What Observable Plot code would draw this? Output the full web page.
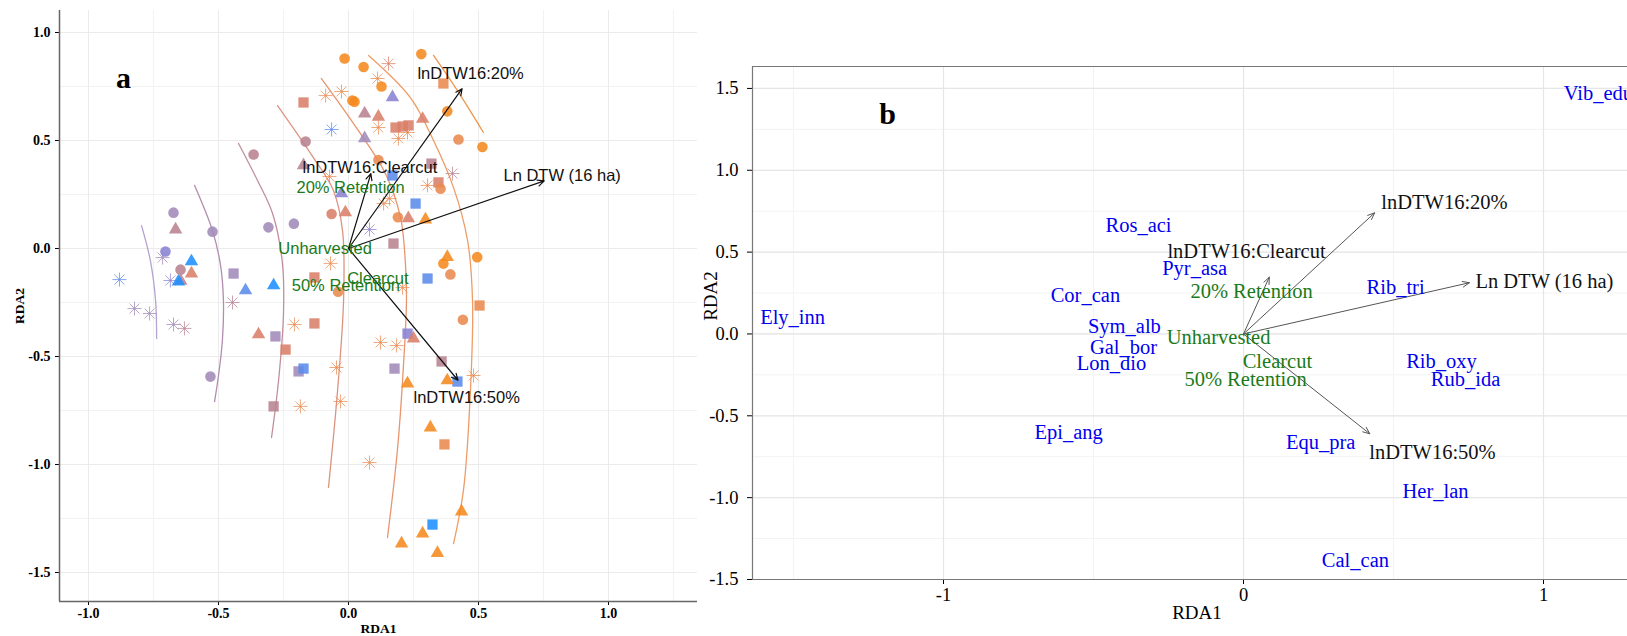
<!DOCTYPE html>
<html><head><meta charset="utf-8">
<script src="https://cdn.jsdelivr.net/npm/d3@7"></script>
<script src="https://cdn.jsdelivr.net/npm/@observablehq/plot@0.6"></script>
<style>
body{margin:0;background:#fff;}
#wrap{position:relative;width:1627px;height:636px;overflow:hidden;background:#fff;}
#a{position:absolute;left:0;top:0;}
#b{position:absolute;left:700px;top:0;}
</style></head><body><div id="wrap"><div id="a"></div><div id="b"></div></div>
<script>
// ---------- Panel a data (site scores: [RDA1, RDA2, colour group]) ----------
const circles = [
[-0.015,0.88,8],[0.058,0.84,8],[0.127,0.75,8],[0.015,0.685,8],[0.023,0.68,8],[0.28,0.90,8],
[0.38,0.635,8],[0.423,0.505,7],[0.515,0.47,8],[-0.165,0.495,5],[0.115,0.41,7],[-0.065,0.16,6],
[-0.21,0.115,4],[0.19,0.145,7],[0.354,0.277,7],[0.495,-0.04,8],[0.392,-0.12,7],[0.365,-0.07,8],
[-0.04,-0.20,7],[0.44,-0.33,7],[-0.673,0.166,4],[-0.704,-0.014,3],[-0.646,-0.098,5],[-0.523,0.078,4],
[-0.308,0.098,4],[-0.531,-0.593,4],[-0.365,0.435,5]
];
const triangles = [
[0.169,0.70,3],[0.062,0.625,5],[0.115,0.61,6],[0.285,0.60,6],[0.062,0.51,4],[-0.173,0.385,5],
[-0.027,0.255,3],[-0.012,0.167,6],[0.23,0.14,6],[0.296,0.134,8],[0.38,-0.04,8],[-0.288,-0.171,1],
[-0.665,0.088,5],[-0.604,-0.06,1],[-0.604,-0.116,6],[-0.645,-0.15,5],[-0.654,-0.153,1],[-0.396,-0.194,2],
[-0.346,-0.398,6],[0.25,-0.417,6],[0.227,-0.625,8],[0.38,-0.611,8],[0.315,-0.829,8],[0.435,-1.218,8],
[0.285,-1.32,8],[0.204,-1.366,8],[0.342,-1.41,8]
];
const squares = [
[-0.173,0.676,6],[0.181,0.56,6],[0.208,0.565,6],[0.231,0.57,6],[0.365,0.764,7],[0.169,0.338,2],
[0.319,0.393,5],[0.346,0.306,6],[0.258,0.208,2],[0.173,0.023,5],[0.304,-0.139,2],[-0.131,-0.134,6],
[0.504,-0.264,7],[-0.442,-0.116,4],[-0.281,-0.407,4],[-0.242,-0.468,6],[-0.192,-0.569,4],[-0.173,-0.556,2],
[-0.288,-0.731,5],[-0.131,-0.347,6],[0.227,-0.394,3],[0.177,-0.556,4],[0.358,-0.523,5],[0.419,-0.616,2],
[0.369,-0.907,7],[0.323,-1.278,1]
];
const asterisks = [
[0.154,0.856,6],[-0.088,0.708,7],[-0.027,0.727,7],[0.112,0.787,7],[-0.065,0.551,2],[0.115,0.56,7],
[0.192,0.509,7],[0.227,0.537,7],[0.40,0.347,5],[0.304,0.292,7],[-0.073,0.333,7],[0.135,0.208,7],
[0.158,0.231,7],[0.081,0.088,3],[-0.069,-0.069,7],[0.208,-0.181,7],[-0.881,-0.144,2],[-0.715,-0.042,4],
[-0.685,-0.148,3],[-0.823,-0.278,4],[-0.765,-0.301,4],[-0.673,-0.352,4],[-0.631,-0.37,5],[-0.446,-0.25,5],
[-0.208,-0.352,7],[-0.185,-0.731,7],[-0.046,-0.551,7],[-0.031,-0.708,7],[0.123,-0.435,7],[0.185,-0.449,7],
[0.481,-0.588,7],[0.081,-0.991,7]
];
// fitted surface isolines (panel a)
const iso1 = [[-0.796,0.106],[-0.762,-0.056],[-0.742,-0.241],[-0.738,-0.417]];
const iso2 = [[-0.592,0.292],[-0.523,0.083],[-0.492,-0.079],[-0.481,-0.241],[-0.485,-0.426],[-0.5,-0.588],[-0.515,-0.708]];
const iso3 = [[-0.423,0.486],[-0.35,0.315],[-0.292,0.162],[-0.254,-0.069],[-0.25,-0.301],[-0.269,-0.611],[-0.296,-0.875]];
const iso4 = [[-0.273,0.662],[-0.135,0.421],[-0.058,0.269],[-0.023,0.083],[-0.019,-0.241],[-0.042,-0.657],[-0.077,-1.106]];
const iso5 = [[-0.104,0.787],[0.038,0.546],[0.142,0.347],[0.2,0.144],[0.219,-0.069],[0.223,-0.241],[0.212,-0.532],[0.188,-0.935],[0.15,-1.338]];
const iso6 = [[0.077,0.894],[0.238,0.699],[0.327,0.5],[0.404,0.282],[0.458,0.037],[0.477,-0.241],[0.469,-0.657],[0.442,-1.12],[0.404,-1.366]];
const iso7 = [[0.327,0.894],[0.419,0.731],[0.519,0.537]];
const isoLines = [iso1, iso2, iso3, iso4, iso5, iso6, iso7];

// ---------- biplot arrows (shared) ----------
const arrowNames = ["lnDTW16:Clearcut", "lnDTW16:20%", "Ln DTW (16 ha)", "lnDTW16:50%"];
const arrowX = [0.086, 0.437, 0.753, 0.421];
const arrowY = [0.347, 0.74, 0.313, -0.61];
const arrowLabelAX = [-0.177, 0.265, 0.596, 0.25];   // panel a, label start
const arrowLabelAY = [0.375, 0.81, 0.338, -0.69];
const arrowLabelBX = [0.01, 0.67, 1.003, 0.63];      // panel b, label centre
const arrowLabelBY = [0.506, 0.805, 0.323, -0.726];

const treatNames = ["Unharvested", "20% Retention", "50% Retention", "Clearcut"];
const treatAX = [-0.09, 0.008, -0.01, 0.113];
const treatAY = [0.0, 0.28, -0.17, -0.14];
const treatBX = [-0.083, 0.027, 0.007, 0.113];
const treatBY = [-0.024, 0.262, -0.28, -0.165];

// ---------- panel b species scores ----------
const speciesNames = ["Vib_edu","Ros_aci","Cor_can","Ely_inn","Sym_alb","Gal_bor","Lon_dio","Pyr_asa","Epi_ang","Rib_tri","Rib_oxy","Rub_ida","Equ_pra","Her_lan","Cal_can"];
const speciesX = [1.183,-0.35,-0.527,-1.503,-0.397,-0.4,-0.44,-0.163,-0.583,0.507,0.66,0.74,0.257,0.64,0.373];
const speciesY = [1.47,0.665,0.238,0.098,0.043,-0.085,-0.177,0.402,-0.604,0.287,-0.165,-0.28,-0.665,-0.963,-1.384];

// tick values
const aTicksX = [-1, -0.5, 0, 0.5, 1];
const aTicksY = [-1.5, -1, -0.5, 0, 0.5, 1];
const bTicksX = [-1, 0, 1];
const bTicksY = [-1.5, -1, -0.5, 0, 0.5, 1, 1.5];

// ---------- styling ----------
const groupColors = ["#1e8fff","#5b8bea","#8a82d2","#a08ab8","#b88290","#d9806a","#e98a50","#f58a1f"];
const isoColors = ["#b4a2d0","#b38cb0","#c0909a","#dc9580","#e8956e","#ee9c66","#f0964a"];
const green = "#1a7a1a";
const xDomA = [-1.1115, 1.3423], yDomA = [-1.6343, 1.1019];
const xDomB = [-1.6367, 1.28], yDomB = [-1.5, 1.634];

const asterisk8 = {draw(ctx, size) {
  const r = Math.sqrt(size / Math.PI) * 1.35;
  for (let i = 0; i < 4; i++) {
    const a = i * Math.PI / 4, c = Math.cos(a) * r, s = Math.sin(a) * r;
    ctx.moveTo(c, s); ctx.lineTo(-c, -s);
  }
}};

const arrowsData = arrowNames.map((n, i) => ({n, x: arrowX[i], y: arrowY[i]}));
const quarter = (d) => d3.range(Math.ceil(d[0] * 4), Math.floor(d[1] * 4) + 1).map(v => v / 4);

const px = d => d[0], py = d => d[1], pg = d => d[2];

const plotA = Plot.plot({
  width: 700, height: 636, marginLeft: 59, marginRight: 3, marginTop: 10, marginBottom: 35,
  style: {fontFamily: "'Liberation Serif', serif", fontSize: "14px", fontWeight: "bold", color: "#000", background: "#fff"},
  x: {domain: xDomA, ticks: aTicksX, tickFormat: d => d.toFixed(1), tickSize: 4, tickPadding: 3, label: null},
  y: {domain: yDomA, ticks: aTicksY, tickFormat: d => d.toFixed(1), tickSize: 4, tickPadding: 5, label: null},
  color: {type: "ordinal", domain: [1,2,3,4,5,6,7,8], range: groupColors},
  marks: [
    Plot.ruleX(quarter(xDomA), {stroke: "#f2f2f2", strokeWidth: 1}),
    Plot.ruleY(quarter(yDomA), {stroke: "#f2f2f2", strokeWidth: 1}),
    Plot.ruleX(aTicksX, {stroke: "#ebebeb", strokeWidth: 1}),
    Plot.ruleY(aTicksY, {stroke: "#ebebeb", strokeWidth: 1}),
    Plot.ruleX([xDomA[0]], {stroke: "#666", strokeWidth: 1.5}),
    Plot.ruleY([yDomA[0]], {stroke: "#666", strokeWidth: 1.5}),
    ...isoLines.map((l, i) => Plot.line(l, {x: px, y: py, stroke: isoColors[i], strokeWidth: 1.3, curve: "catmull-rom"})),
    Plot.dot(asterisks, {x: px, y: py, stroke: pg, fill: "none", symbol: asterisk8, r: 5.2, strokeWidth: 1, strokeOpacity: 0.75}),
    Plot.dot(squares, {x: px, y: py, fill: pg, symbol: "square", r: 5.8, fillOpacity: 0.88}),
    Plot.dot(triangles, {x: px, y: py, fill: pg, symbol: "triangle", r: 5.0, fillOpacity: 0.88}),
    Plot.dot(circles, {x: px, y: py, fill: pg, symbol: "circle", r: 5.3, fillOpacity: 0.88}),
    Plot.arrow(arrowsData, {x1: 0, y1: 0, x2: "x", y2: "y", stroke: "#111", strokeWidth: 1.2, headLength: 9, headAngle: 50}),
    Plot.text(arrowNames, {x: (d, i) => arrowLabelAX[i], y: (d, i) => arrowLabelAY[i], text: d => d, textAnchor: "start",
      fontFamily: "'Liberation Sans', Arial, sans-serif", fontSize: 16.5, fontWeight: "normal", fill: "#111"}),
    Plot.text(treatNames, {x: (d, i) => treatAX[i], y: (d, i) => treatAY[i], text: d => d,
      fontFamily: "'Liberation Sans', Arial, sans-serif", fontSize: 16.5, fontWeight: "normal", fill: green}),
    Plot.text(["a"], {frameAnchor: "top-left", dx: 64, dy: 68, textAnchor: "middle", lineAnchor: "middle", fontSize: 30, fontWeight: "bold", fill: "#000"}),
    Plot.text(["RDA1"], {frameAnchor: "bottom", dy: 27, textAnchor: "middle", lineAnchor: "middle", fontSize: 13.5, fontWeight: "bold"}),
    Plot.text(["RDA2"], {frameAnchor: "left", dx: -40, textAnchor: "middle", lineAnchor: "middle", rotate: -90, fontSize: 13.5, fontWeight: "bold"})
  ]
});
document.getElementById("a").appendChild(plotA);

const plotB = Plot.plot({
  width: 927, height: 636, marginLeft: 52, marginRight: 0, marginTop: 66, marginBottom: 57,
  style: {fontFamily: "'Liberation Serif', serif", fontSize: "18.5px", color: "#000", background: "#fff"},
  x: {domain: xDomB, ticks: bTicksX, tickFormat: d => String(d), tickSize: 5, tickPadding: 3, label: null},
  y: {domain: yDomB, ticks: bTicksY, tickFormat: d => d.toFixed(1), tickSize: 5, tickPadding: 9, label: null},
  marks: [
    Plot.ruleY(quarter(yDomB), {stroke: "#f3f3f3", strokeWidth: 1}),
    Plot.ruleX([-1.5, -0.5, 0.5], {stroke: "#f3f3f3", strokeWidth: 1}),
    Plot.ruleY(bTicksY, {stroke: "#e6e6e6", strokeWidth: 1.2}),
    Plot.ruleX(bTicksX, {stroke: "#e6e6e6", strokeWidth: 1.2}),
    Plot.ruleX([xDomB[0]], {stroke: "#777", strokeWidth: 1.2}),
    Plot.ruleY(yDomB, {stroke: "#777", strokeWidth: 1.2}),
    Plot.arrow(arrowsData, {x1: 0, y1: 0, x2: "x", y2: "y", stroke: "#555", strokeWidth: 1, headLength: 11, headAngle: 45}),
    Plot.text(speciesNames, {x: (d, i) => speciesX[i], y: (d, i) => speciesY[i], text: d => d, fill: "#0000ee", fontSize: 20.5}),
    Plot.text(arrowNames, {x: (d, i) => arrowLabelBX[i], y: (d, i) => arrowLabelBY[i], text: d => d, fill: "#111", fontSize: 20.5}),
    Plot.text(treatNames, {x: (d, i) => treatBX[i], y: (d, i) => treatBY[i], text: d => d, fill: green, fontSize: 20.5}),
    Plot.text(["b"], {frameAnchor: "top-left", dx: 135, dy: 48, textAnchor: "middle", lineAnchor: "middle", fontSize: 30, fontWeight: "bold", fill: "#000"}),
    Plot.text(["RDA1"], {frameAnchor: "bottom", dx: 7, dy: 33, textAnchor: "middle", lineAnchor: "middle", fontSize: 19}),
    Plot.text(["RDA2"], {frameAnchor: "left", dx: -42, dy: -27, textAnchor: "middle", lineAnchor: "middle", rotate: -90, fontSize: 19})
  ]
});
document.getElementById("b").appendChild(plotB);
</script></body></html>
